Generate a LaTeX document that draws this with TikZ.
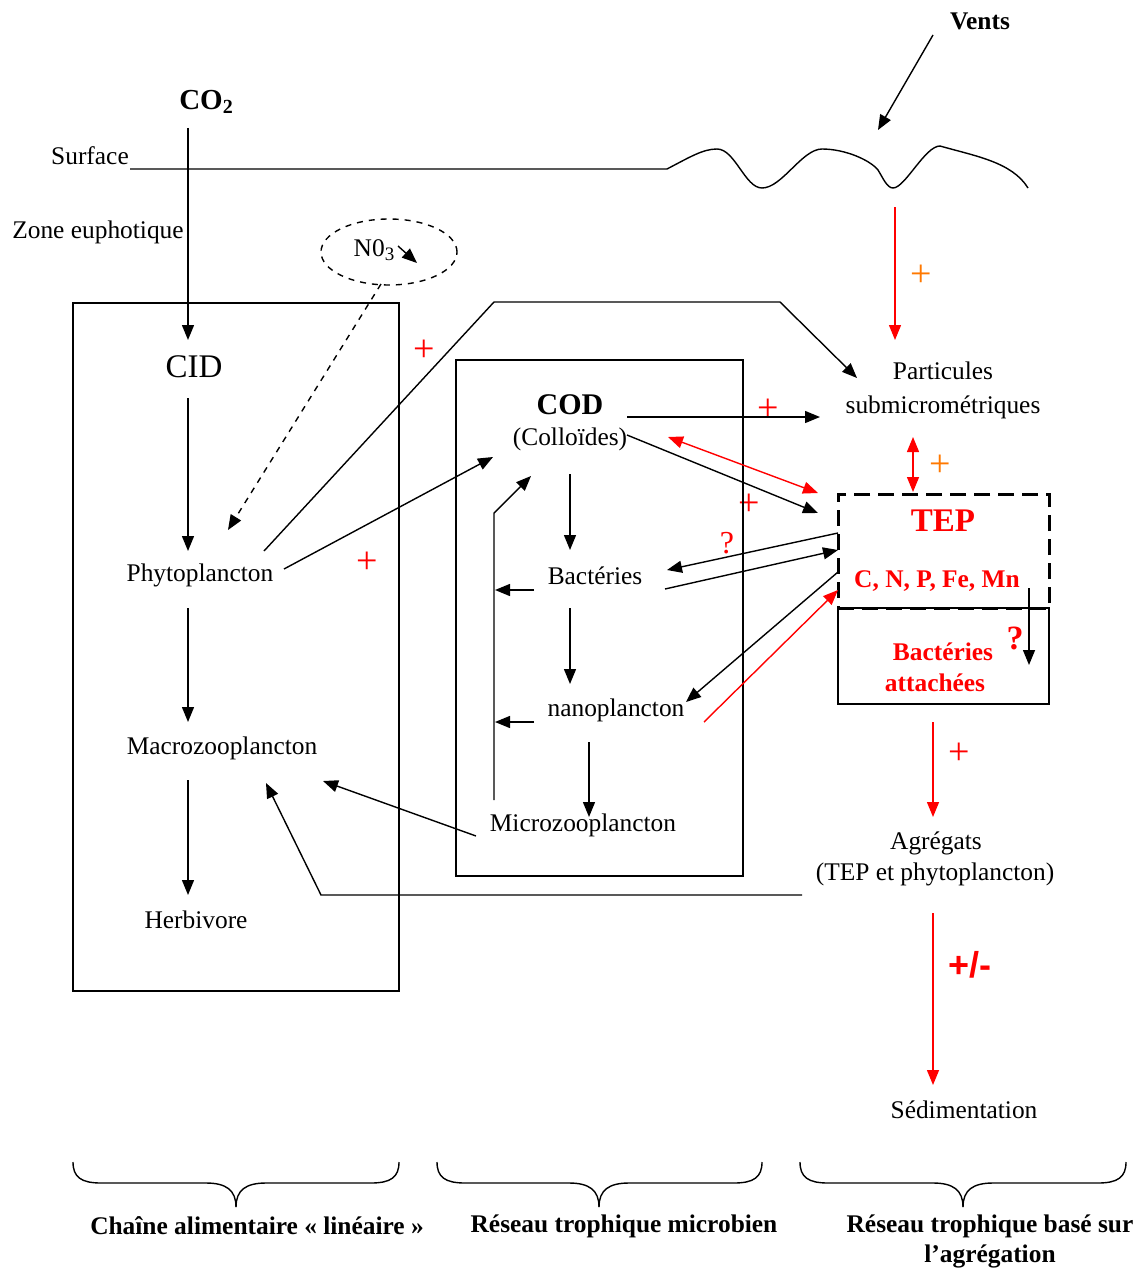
\documentclass[tikz,border=0pt]{standalone}
\usepackage{fontspec}
\setmainfont{Liberation Serif}
\newfontfamily\arialfont{Liberation Sans}
\usetikzlibrary{arrows.meta,shapes.geometric,calc}
\definecolor{tred}{RGB}{255,0,0}
\definecolor{torange}{RGB}{255,120,0}
\begin{document}
\begin{tikzpicture}[x=0.5pt,y=-0.5pt,
  txt/.style={font=\fontsize{12.7}{15}\selectfont, inner sep=0pt},
  big/.style={font=\fontsize{16.5}{19}\selectfont, inner sep=0pt},
  plus/.style={font=\fontsize{19}{19}\selectfont, inner sep=0pt, text=tred},
  arr/.style={-{Triangle[length=7.5pt,width=6pt]}, line width=0.7pt},
  rarr/.style={-{Triangle[length=7.5pt,width=6pt]}, line width=0.7pt, draw=tred},
  rdarr/.style={{Triangle[length=7.5pt,width=6pt]}-{Triangle[length=7.5pt,width=6pt]}, line width=0.7pt, draw=tred},
  ln/.style={line width=0.7pt},
  brc/.style={line width=0.7pt}]
\useasboundingbox (0,0) rectangle (1140,1268);

% ---- texts ----
\node[txt,font=\fontsize{12.7}{15}\selectfont\bfseries] (vents) at (980,21) {Vents};
\node[txt,font=\fontsize{14.5}{16}\selectfont\bfseries] (co2) at (206,102) {CO\raisebox{-0.35ex}{\fontsize{10}{10}\selectfont 2}};
\node[txt] (surface) at (90,156) {Surface};
\node[txt] (zone) at (98,232) {Zone euphotique};
\node[draw,dashed,ellipse,line width=0.7pt,minimum width=68pt,minimum height=33pt,inner sep=0pt] (no3e) at (389,252) {};
\node[txt] (no3) at (374,250) {N0\raisebox{-0.4ex}{\fontsize{9.5}{10}\selectfont 3}};
\node[big] (cid) at (194,367) {CID};
\node[txt] (phyto) at (200,575) {Phytoplancton};
\node[txt] (macro) at (222,748) {Macrozooplancton};
\node[txt] (herb) at (196,920) {Herbivore};
\node[big,font=\fontsize{15}{18}\selectfont\bfseries] (cod) at (570,405) {COD};
\node[txt] (coll) at (570,439) {(Collo\"ides)};
\node[txt] (bact) at (595,576) {Bact\'eries};
\node[txt] (nano) at (616,710) {nanoplancton};
\node[txt] (micro) at (583,825) {Microzooplancton};
\node[txt] (part1) at (943,371) {Particules};
\node[txt] (part2) at (943,407) {submicrom\'etriques};
\node[big,font=\fontsize{16.5}{19}\selectfont\bfseries,text=tred] (tep) at (943,521) {TEP};
\node[txt,font=\fontsize{12.7}{15}\selectfont\bfseries,text=tred] (cnp) at (937,581) {C, N, P, Fe, Mn};
\node[txt,font=\fontsize{12.7}{15}\selectfont\bfseries,text=tred] (ba1) at (943,652) {Bact\'eries};
\node[txt,font=\fontsize{12.7}{15}\selectfont\bfseries,text=tred] (ba2) at (935,683) {attach\'ees};
\node[txt] (agr1) at (936,843) {Agr\'egats};
\node[txt] (agr2) at (935,874) {(TEP et phytoplancton)};
\node[txt] (sed) at (964,1110) {S\'edimentation};
\node[txt,font=\fontsize{12.7}{15}\selectfont\bfseries] (l1) at (257,1226) {Cha\^ine alimentaire \guillemotleft\ lin\'eaire \guillemotright};
\node[txt,font=\fontsize{12.7}{15}\selectfont\bfseries] (l2) at (624,1226) {R\'eseau trophique microbien};
\node[txt,font=\fontsize{12.7}{15}\selectfont\bfseries] (l3a) at (990,1226) {R\'eseau trophique bas\'e sur};
\node[txt,font=\fontsize{12.7}{15}\selectfont\bfseries] (l3b) at (990,1256) {l'agr\'egation};

% plus signs and question marks
\node[plus] (p1) at (424,351) {+};
\node[plus] (p2) at (367,563) {+};
\node[plus] (p3) at (768,410) {+};
\node[plus] (p4) at (749,505) {+};
\node[plus,text=torange] (p5) at (921,276) {+};
\node[plus,text=torange] (p6) at (940,466) {+};
\node[plus] (p7) at (959,754) {+};
\node[plus,font=\fontsize{18}{18}\arialfont\bfseries] (p8) at (970,965) {+/-};
\node[txt,font=\fontsize{16}{16}\selectfont,text=tred] (q1) at (727,543) {?};
\node[txt,font=\fontsize{17}{17}\selectfont\bfseries,text=tred] (q2) at (1015,638) {?};

% ---- boxes ----
\node[draw,line width=0.7pt,minimum width=163pt,minimum height=344pt,inner sep=0pt] (lbox) at (236,647) {};
\node[draw,line width=0.7pt,minimum width=143.5pt,minimum height=258pt,inner sep=0pt] (mbox) at (599.5,618) {};
\node[draw,line width=0.7pt,minimum width=105.5pt,minimum height=48pt,inner sep=0pt] (bbox) at (943.5,656) {};
\node[draw,dashed,dash pattern=on 8pt off 4pt,line width=1.5pt,minimum width=105.5pt,minimum height=57pt,inner sep=0pt] (tbox) at (943.5,551) {};

% ---- surface ----
\coordinate (s0) at (130,169);
\coordinate (s1) at (667,169);
\draw[ln] (s0) -- (s1) .. controls (690,157) and (703,149) .. (717,149)
  .. controls (735,149) and (745,188) .. (762,188)
  .. controls (782,188) and (802,149) .. (822,149)
  .. controls (845,149) and (870,160) .. (878,170)
  .. controls (883,178) and (887,188) .. (893,188)
  .. controls (905,188) and (925,146) .. (940,146)
  .. controls (975,156) and (1012,162) .. (1028,188);

% ---- connectors ----
\coordinate (v0) at (933,35); \coordinate (v1) at (878,130);
\draw[arr] (v0) -- (v1);
\coordinate (c0) at (188,128); \coordinate (c1) at (188,340);
\draw[arr] (c0) -- (c1);
\coordinate (n0) at (398,246); \coordinate (n1) at (417,263);
\draw[arr] (n0) -- (n1);
\coordinate (d0) at (381,284); \coordinate (d1) at (228,530);
\draw[arr,dashed] (d0) -- (d1);
\draw[arr] (188,398) -- (188,551);
\draw[arr] (188,608) -- (188,722);
\draw[arr] (188,780) -- (188,895);
% phyto -> particules
\draw[arr] (264,551) -- (494,302) -- (780,302) -- (857,378);
% phyto -> COD
\draw[arr] (284,569) -- (493,457);
% COD -> particules
\draw[arr] (627,417) -- (820,417);
% COD -> TEP
\draw[arr] (627,435) -- (818,513);
\draw[rdarr] (668,437) -- (818,493);
% vertical red arrows
\draw[rarr] (895,207) -- (895,340);
\draw[rdarr] (913,437) -- (913,492);
% microbial chain
\draw[arr] (570,474) -- (570,550);
\draw[arr] (570,608) -- (570,684);
\draw[arr] (589,742) -- (589,817);
\draw[arr] (494,800) -- (494,513) -- (531,476);
\draw[arr] (534,590) -- (495,590);
\draw[arr] (534,722) -- (495,722);
% TEP <-> bacteries
\draw[arr] (838,533) -- (667,570);
\draw[arr] (665,589) -- (838,550);
% TEP -> nano
\draw[arr] (838,572) -- (686,702);
\draw[rarr] (704,722) -- (838,590);
% TEP -> bacteries attachees
\draw[arr] (1029,588) -- (1029,665);
% micro -> macro
\draw[arr] (476,836) -- (323,781);
% agregats -> macro
\draw[arr] (802,895) -- (321,895) -- (266,783);
% red arrows down
\draw[rarr] (933,722) -- (933,817);
\draw[rarr] (933,913) -- (933,1085);

% ---- braces ----
\foreach \a/\m/\b in {73/236/399, 437/599/762, 800/963/1126}{
  \draw[brc] (\a,1162) .. controls (\a,1177) and (\a+8,1183) .. (\a+28,1183)
    -- (\m-30,1183) .. controls (\m-10,1183) and (\m,1190) .. (\m,1207);
  \draw[brc] (\b,1162) .. controls (\b,1177) and (\b-8,1183) .. (\b-28,1183)
    -- (\m+30,1183) .. controls (\m+10,1183) and (\m,1190) .. (\m,1207);
}
\end{tikzpicture}
\end{document}
